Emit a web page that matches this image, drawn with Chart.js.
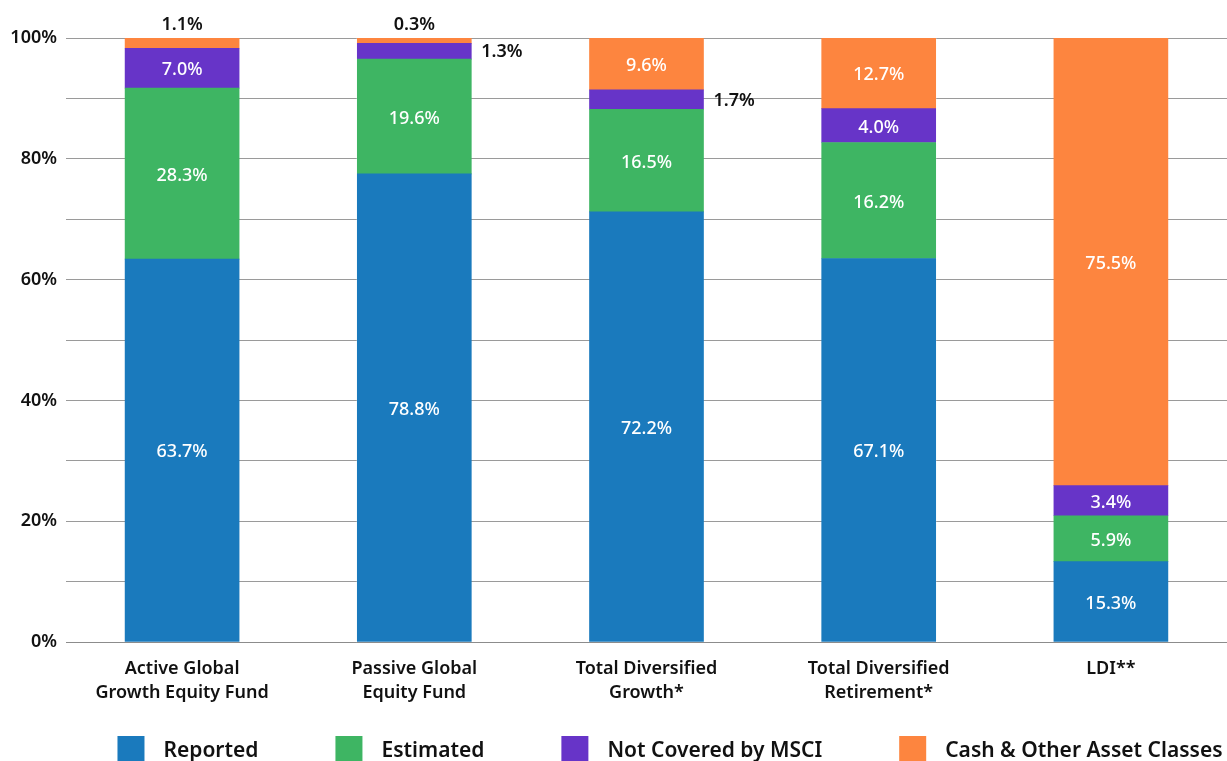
<!DOCTYPE html>
<html>
<head>
<meta charset="utf-8">
<script src="https://cdn.jsdelivr.net/npm/chart.js@4"></script>
<style>
html,body{margin:0;padding:0;background:#fff;}
#wrap{width:1227px;height:761px;position:relative;}
</style>
</head>
<body>
<div id="wrap"><canvas id="c" width="1227" height="761"></canvas></div>
<script>
// Categories (x-axis labels, multi-line)
const categories = [
  ['Active Global', 'Growth Equity Fund'],
  ['Passive Global', 'Equity Fund'],
  ['Total Diversified', 'Growth*'],
  ['Total Diversified', 'Retirement*'],
  ['LDI**']
];
// Segment heights as drawn in the picture (%)
const reported   = [63.4, 77.5, 71.2, 63.5, 13.3];
const estimated  = [28.3, 19.0, 17.0, 19.2, 7.6];
const notCovered = [6.6, 2.6, 3.2, 5.6, 5.0];
const cashOther  = [1.7, 0.9, 8.6, 11.7, 74.1];
// Printed labels on the segments
const reportedLabels   = ['63.7%', '78.8%', '72.2%', '67.1%', '15.3%'];
const estimatedLabels  = ['28.3%', '19.6%', '16.5%', '16.2%', '5.9%'];
const notCoveredLabels = ['7.0%', '1.3%', '1.7%', '4.0%', '3.4%'];
const cashLabels       = ['1.1%', '0.3%', '9.6%', '12.7%', '75.5%'];
// Y tick labels
const yTickValues = [0, 20, 40, 60, 80, 100];
const seriesNames = ['Reported', 'Estimated', 'Not Covered by MSCI', 'Cash & Other Asset Classes'];
const seriesColors = ['#1A7ABD', '#3EB563', '#6734C8', '#FD853F'];

const FONT = "'Noto Sans', 'Open Sans', sans-serif";
const labelSets = [reportedLabels, estimatedLabels, notCoveredLabels, cashLabels];

const segLabelPlugin = {
  id: 'segLabels',
  afterDatasetsDraw(chart) {
    const ctx = chart.ctx;
    chart.data.datasets.forEach((ds, di) => {
      const meta = chart.getDatasetMeta(di);
      const isTop = di === chart.data.datasets.length - 1;
      meta.data.forEach((bar, i) => {
        const txt = labelSets[di][i];
        const top = Math.min(bar.y, bar.base);
        const bot = Math.max(bar.y, bar.base);
        const h = bot - top;
        const cy = (top + bot) / 2;
        ctx.save();
        if (h >= 25) {
          ctx.fillStyle = '#ffffff';
          ctx.font = '500 18px ' + FONT;
          ctx.textAlign = 'center';
          ctx.textBaseline = 'middle';
          ctx.fillText(txt, bar.x, cy + 2);
        } else if (isTop) {
          ctx.fillStyle = '#111111';
          ctx.font = '600 18px ' + FONT;
          ctx.textAlign = 'center';
          ctx.textBaseline = 'alphabetic';
          ctx.fillText(txt, bar.x, top - 8);
        } else {
          ctx.fillStyle = '#111111';
          ctx.font = '600 18px ' + FONT;
          ctx.textAlign = 'left';
          ctx.textBaseline = 'middle';
          ctx.fillText(txt, bar.x + bar.width / 2 + 10, cy + 1);
        }
        ctx.restore();
      });
    });
  }
};

const legendPlugin = {
  id: 'customLegend',
  afterDraw(chart) {
    const ctx = chart.ctx;
    ctx.save();
    ctx.font = '600 21px ' + FONT;
    const box = 27, gapText = 19, gapItem = 77;
    const widths = seriesNames.map(n => ctx.measureText(n).width);
    let total = 0;
    widths.forEach((w, i) => { total += box + gapText + w + (i < widths.length - 1 ? gapItem : 0); });
    let x = 670 - total / 2;
    if (x + total > 1224) x = 1224 - total;
    const boxTop = 736;
    seriesNames.forEach((n, i) => {
      ctx.fillStyle = seriesColors[i];
      ctx.fillRect(x, boxTop, box, box);
      ctx.fillStyle = '#111111';
      ctx.textAlign = 'left';
      ctx.textBaseline = 'alphabetic';
      ctx.fillText(n, x + box + gapText, 757);
      x += box + gapText + widths[i] + gapItem;
    });
    ctx.restore();
  }
};

const data = {
  labels: categories,
  datasets: [reported, estimated, notCovered, cashOther].map((vals, i) => ({
    label: seriesNames[i],
    data: vals,
    backgroundColor: seriesColors[i],
    borderWidth: 0,
    barThickness: 114
  }))
};

new Chart(document.getElementById('c'), {
  type: 'bar',
  data: data,
  plugins: [segLabelPlugin, legendPlugin],
  options: {
    responsive: false,
    animation: false,
    devicePixelRatio: 1,
    layout: { padding: { top: 38, right: 0, left: 0, bottom: 58 } },
    plugins: { legend: { display: false }, tooltip: { enabled: false } },
    scales: {
      x: {
        stacked: true,
        grid: { display: false, drawTicks: false },
        border: { display: true, color: '#8c8c8c', width: 1 },
        ticks: {
          color: '#111111',
          font: { family: FONT, size: 18, weight: '600', lineHeight: 1.33 },
          padding: 15,
          maxRotation: 0,
          autoSkip: false
        },
        afterFit(s) { s.height = 761 - 642 - 58; }
      },
      y: {
        stacked: true,
        min: 0,
        max: 100,
        grid: { color: '#9a9a9a', lineWidth: 1, drawTicks: false },
        border: { display: false },
        ticks: {
          stepSize: 10,
          color: '#111111',
          font: { family: FONT, size: 18, weight: '600' },
          padding: 9,
          callback: (v) => yTickValues.includes(v) ? v + '%' : ''
        },
        afterFit(s) { s.width = 66; }
      }
    }
  }
});
</script>
</body>
</html>
